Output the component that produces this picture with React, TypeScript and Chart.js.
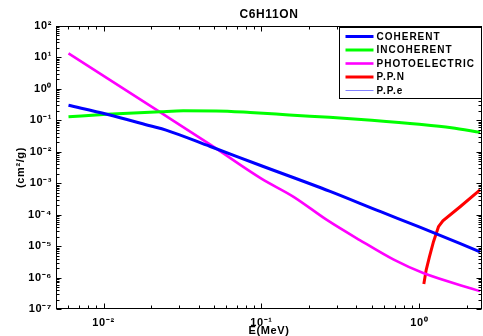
import React, { useEffect, useRef } from 'react';
import { Chart, registerables } from 'chart.js';

Chart.register(...registerables);

// ---- text ----
const TITLE = 'C6H11ON';
const X_TITLE = 'E(MeV)';
const Y_TITLE = '(cm²/g)';
const SERIES_LABELS = ['COHERENT', 'INCOHERENT', 'PHOTOELECTRIC', 'P.P.N', 'P.P.e'];
const SERIES_COLORS = ['#0000ff', '#00ff00', '#ff00ff', '#ff0000', '#8080ff'];
const SERIES_WIDTHS = [3, 3, 2.6, 3, 1];
const SERIES_SMOOTH = [true, true, true, false, false];

// ---- axis ranges ----
const X_MIN = 0.005;
const X_MAX = 2.5;
const Y_MIN = 1e-7;
const Y_MAX = 1e2;

// ---- data (E in MeV, value in cm^2/g) ----
const coherentE = [0.006, 0.0105, 0.02, 0.0249, 0.0475, 0.1, 0.27, 0.57, 1.0, 2.43];
const coherentV = [0.3, 0.156, 0.066, 0.049, 0.0147, 0.0036, 5.6e-4, 1.24e-4, 4.1e-5, 6.6e-6];

const incoherentE = [0.006, 0.0105, 0.023, 0.032, 0.0516, 0.085, 0.124, 0.15, 0.27, 0.5, 1.0, 1.6, 2.43];
const incoherentV = [0.13, 0.156, 0.188, 0.2, 0.198, 0.178, 0.159, 0.148, 0.125, 0.1, 0.0746, 0.058, 0.0416];

const photoE = [0.006, 0.0223, 0.0475, 0.1, 0.16, 0.26, 0.42, 0.69, 1.06, 2.43];
const photoV = [13.5, 0.195, 0.0169, 1.4e-3, 3.7e-4, 6.8e-5, 1.56e-5, 3.7e-6, 1.39e-6, 3.7e-7];

const ppnE = [1.07, 1.107, 1.162, 1.232, 1.325, 1.413, 1.817, 2.43];
const ppnV = [6.2e-7, 1.73e-6, 4.6e-6, 1.38e-5, 4.14e-5, 6.4e-5, 1.79e-4, 6.1e-4];

const ppeE = [2.45, 2.5];
const ppeV = [2.5e-6, 2.7e-6];

const FONT = '"Liberation Sans", Arial, Helvetica, sans-serif';

const SUP: Record<string, string> = {
  '-': '⁻', '0': '⁰', '1': '¹', '2': '²', '3': '³', '4': '⁴',
  '5': '⁵', '6': '⁶', '7': '⁷', '8': '⁸', '9': '⁹',
};

function pow10Label(v: number): string {
  const l = Math.log10(v);
  const r = Math.round(l);
  if (Math.abs(l - r) > 1e-6) return '';
  return '10' + String(r).split('').map((c) => SUP[c]).join('');
}

function eachLogTick(min: number, max: number, fn: (v: number, major: boolean) => void) {
  const e0 = Math.floor(Math.log10(min));
  const e1 = Math.ceil(Math.log10(max));
  for (let e = e0; e <= e1; e++) {
    for (let k = 1; k <= 9; k++) {
      const v = k * Math.pow(10, e);
      if (v < min * 0.9999 || v > max * 1.0001) continue;
      fn(v, k === 1);
    }
  }
}

const spacingPlugin = {
  id: 'spacing',
  beforeDraw(chart: any) {
    (chart.ctx as any).letterSpacing = '0.6px';
  },
};

const framePlugin = {
  id: 'frame',
  afterDraw(chart: any) {
    const { ctx, chartArea: a, scales } = chart;
    ctx.save();
    ctx.strokeStyle = '#000';
    ctx.lineWidth = 1;
    const L = Math.round(a.left) + 0.5;
    const R = Math.round(a.right) - 0.5;
    const T = Math.round(a.top) + 0.5;
    const B = Math.round(a.bottom) - 0.5;
    ctx.strokeRect(L, T, R - L, B - T);
    ctx.beginPath();
    eachLogTick(scales.x.min, scales.x.max, (v, major) => {
      const x = Math.round(scales.x.getPixelForValue(v)) + 0.5;
      const len = major ? 5 : 3;
      ctx.moveTo(x, B); ctx.lineTo(x, B - len);
      ctx.moveTo(x, T); ctx.lineTo(x, T + len);
    });
    eachLogTick(scales.y.min, scales.y.max, (v, major) => {
      const y = Math.round(scales.y.getPixelForValue(v)) + 0.5;
      const len = major ? 5 : 3;
      ctx.moveTo(L, y); ctx.lineTo(L + len, y);
      ctx.moveTo(R, y); ctx.lineTo(R - len, y);
    });
    ctx.stroke();
    ctx.restore();
  },
};

const legendPlugin = {
  id: 'boxLegend',
  afterDraw(chart: any) {
    const { ctx, chartArea: a } = chart;
    const bw = 142;
    const bh = 71;
    const bx = Math.round(a.right) - bw - 0.5;
    const by = Math.round(a.top) + 1.5;
    ctx.save();
    ctx.fillStyle = '#fff';
    ctx.fillRect(bx, by, bw, bh);
    ctx.strokeStyle = '#000';
    ctx.lineWidth = 1;
    ctx.strokeRect(bx, by, bw, bh);
    ctx.font = `bold 10px ${FONT}`;
    (ctx as any).letterSpacing = '1px';
    ctx.textBaseline = 'middle';
    ctx.textAlign = 'left';
    chart.data.datasets.forEach((ds: any, i: number) => {
      const y = by + 9 + i * 13.5;
      ctx.strokeStyle = ds.borderColor;
      ctx.lineWidth = ds.borderWidth;
      ctx.beginPath();
      ctx.moveTo(bx + 6, y);
      ctx.lineTo(bx + 34, y);
      ctx.stroke();
      ctx.fillStyle = '#000';
      ctx.fillText(ds.label, bx + 37, y + 0.5);
    });
    ctx.restore();
  },
};

function toPoints(xs: number[], ys: number[]) {
  return xs.map((x, i) => ({ x, y: ys[i] }));
}

export default function App() {
  const ref = useRef<HTMLCanvasElement | null>(null);

  useEffect(() => {
    const canvas = ref.current;
    if (!canvas) return;
    const seriesData = [
      toPoints(coherentE, coherentV),
      toPoints(incoherentE, incoherentV),
      toPoints(photoE, photoV),
      toPoints(ppnE, ppnV),
      toPoints(ppeE, ppeV),
    ];
    const datasets = seriesData.map((data, i) => ({
      label: SERIES_LABELS[i],
      data,
      borderColor: SERIES_COLORS[i],
      backgroundColor: SERIES_COLORS[i],
      borderWidth: SERIES_WIDTHS[i],
      pointRadius: 0,
      cubicInterpolationMode: SERIES_SMOOTH[i] ? 'monotone' : 'default',
      tension: 0,
      fill: false,
    }));
    const tickFont = { family: FONT, size: 11, weight: 'bold' as const };
    const chart = new Chart(canvas, {
      type: 'line',
      data: { datasets },
      options: {
        animation: false,
        responsive: false,
        events: [],
        layout: { padding: { top: 0, right: 1, bottom: 0, left: 0 } },
        plugins: {
          legend: { display: false },
          tooltip: { enabled: false },
          title: {
            display: true,
            text: TITLE,
            color: '#000',
            fullSize: false,
            font: { family: FONT, size: 12, weight: 'bold', lineHeight: 1.2 },
            padding: { top: 7.8, bottom: 3.8 },
          },
        },
        scales: {
          x: {
            type: 'logarithmic',
            position: 'bottom',
            min: X_MIN,
            max: X_MAX,
            grid: { display: false, drawTicks: false },
            border: { display: false },
            ticks: {
              autoSkip: false,
              maxRotation: 0,
              minRotation: 0,
              padding: 7,
              color: '#000',
              font: tickFont,
              callback: (value: any) => pow10Label(Number(value)),
            },
            title: {
              display: true,
              text: X_TITLE,
              color: '#000',
              font: tickFont,
              padding: { top: 0, bottom: -2 },
            },
            afterFit: (s: any) => {
              s.height = 27;
              s.paddingLeft = 0;
              s.paddingRight = 0;
            },
          },
          y: {
            type: 'logarithmic',
            position: 'left',
            min: Y_MIN,
            max: Y_MAX,
            grid: { display: false, drawTicks: false },
            border: { display: false },
            ticks: {
              autoSkip: false,
              padding: 4,
              color: '#000',
              font: tickFont,
              callback: (value: any) => pow10Label(Number(value)),
            },
            title: {
              display: true,
              text: Y_TITLE,
              color: '#000',
              font: tickFont,
              padding: { top: 14.4, bottom: 0 },
            },
            afterFit: (s: any) => {
              s.width = 56;
              s.paddingTop = 0;
              s.paddingBottom = 0;
            },
          },
        },
      } as any,
      plugins: [spacingPlugin, framePlugin, legendPlugin],
    });
    return () => chart.destroy();
  }, []);

  return (
    <div style={{ position: 'fixed', left: 0, top: 0, width: 483, height: 336, background: '#fff' }}>
      <canvas ref={ref} width={483} height={336} style={{ display: 'block' }} />
    </div>
  );
}
